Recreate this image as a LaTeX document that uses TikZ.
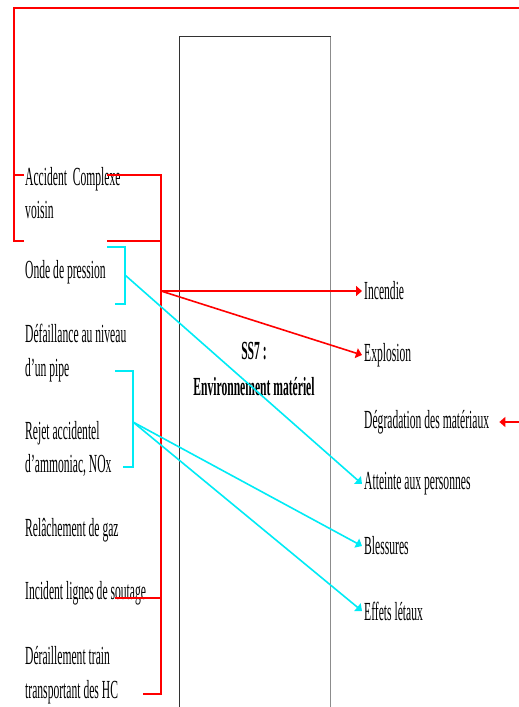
\documentclass[tikz,border=0pt]{standalone}
\usepackage{fontspec}
\setmainfont{Liberation Serif}
\usepackage{tikz}
\usetikzlibrary{arrows.meta}
\usepackage{xcolor}
\definecolor{ssred}{RGB}{255,0,0}
\definecolor{sscyan}{RGB}{0,235,245}
\definecolor{ssdark}{RGB}{50,50,50}
\definecolor{ssgrey}{RGB}{140,140,140}
\tikzstyle{cause} = [anchor=west, inner sep=1pt, align=left, yscale=2.25, font=\fontsize{11.6}{15}\selectfont]
\tikzstyle{effect} = [anchor=west, inner sep=2pt, yscale=2.25, font=\fontsize{11.6}{15}\selectfont]
\tikzstyle{system} = [align=center, yscale=2.25, font=\fontsize{11.6}{15.6}\selectfont\bfseries]
\tikzstyle{redline} = [draw=ssred, line width=1.6pt]
\tikzstyle{cyanline} = [draw=sscyan, line width=1.6pt]
\tikzstyle{redarrow} = [redline, -{Triangle[length=6pt,width=10pt]}, fill=ssred]
\tikzstyle{cyanarrow} = [cyanline, -{Triangle[length=6pt,width=10pt]}, fill=sscyan]

\begin{document}
\begin{tikzpicture}[x=1pt, y=-1pt]
\useasboundingbox (0,0) rectangle (519,707);

% Subsystem box (runs off the bottom)
\draw[ssdark, line width=1pt] (179.5,707) -- (179.5,36.5) -- (330.5,36.5);
\draw[ssgrey, line width=1.2pt] (330.5,36.5) -- (330.5,707);
\node (ss7) [system] at (254,369) {SS7 :\\Environnement matériel};

% Causes on the left
\node (accident) [cause] at (24,193) {Accident\ \ Complexe\\voisin};
\node (onde) [cause] at (24,272) {Onde de pression};
\node (defaillance) [cause] at (24,353) {Défaillance au niveau\\d'un pipe};
\node (rejet) [cause] at (24,449) {Rejet accidentel\\d'ammoniac, NOx};
\node (relachement) [cause] at (24,530) {Relâchement de gaz};
\node (incident) [cause] at (24,593) {Incident lignes de soutage};
\node (deraillement) [cause] at (24,675) {Déraillement train\\transportant des HC};

% Effects on the right
\node (incendie) [effect] at (362,291) {Incendie};
\node (explosion) [effect] at (362,355) {Explosion};
\node (degradation) [effect] at (362,422) {Dégradation des matériaux};
\node (atteinte) [effect] at (362,484) {Atteinte aux personnes};
\node (blessures) [effect] at (362,546) {Blessures};
\node (effets) [effect] at (362,611) {Effets létaux};

% Red trunk and branches
\coordinate (hub) at (161,291);
\coordinate (loop) at (519,422);
\draw[redline] (107,175) -- (161,175) -- (161,694) -- (143,694);
\draw[redline] (107,241) -- (161,241);
\draw[redline] (115,598) -- (161,598);
\draw[redline] (24,241) -- (14,241) -- (14,8) -- (519,8);
\draw[redline] (14,175) -- (24,175);
\draw[redarrow] (hub) -- (incendie.west);
\draw[redarrow] (hub) -- (explosion.west);
\draw[redarrow, shorten >=8pt] (loop) -- (degradation.east);

% Cyan brackets
\coordinate (ondeout) at (125,275);
\coordinate (rejetout) at (133,422);
\draw[cyanline] (107,247) -- (125,247) -- (125,304) -- (115,304);
\draw[cyanline] (115,371) -- (133,371) -- (133,467) -- (123,467);
\draw[cyanarrow] (ondeout) -- (atteinte.west);
\draw[cyanarrow] (rejetout) -- (blessures.west);
\draw[cyanarrow] (rejetout) -- (effets.west);
\end{tikzpicture}
\end{document}
